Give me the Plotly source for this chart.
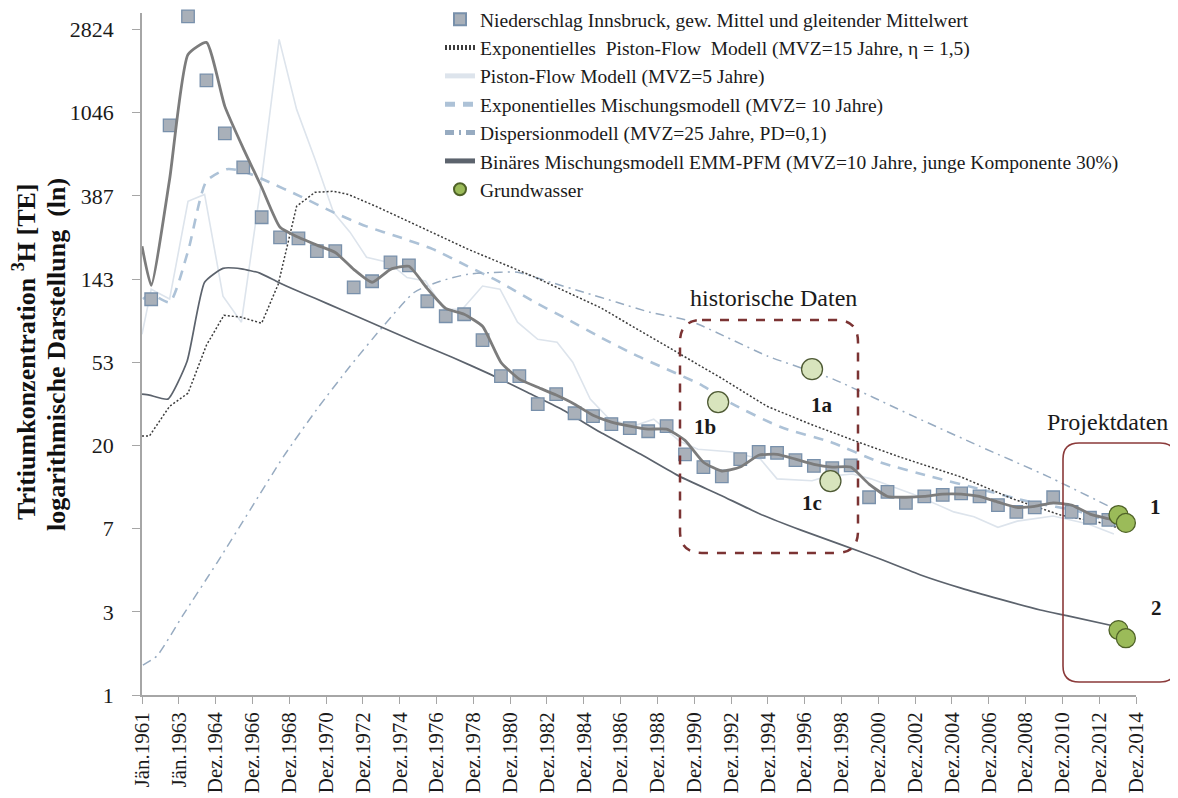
import plotly.graph_objects as go

# ---------------- data ----------------
x_tick_years = [1961, 1963, 1965, 1967, 1969, 1971, 1973, 1975, 1977, 1979, 1981, 1983, 1985, 1987,
                1989, 1991, 1993, 1995, 1997, 1999, 2001, 2003, 2005, 2007, 2009, 2011, 2013, 2015]
x_tick_labels = ["Jän.1961", "Jän.1963", "Dez.1964", "Dez.1966", "Dez.1968", "Dez.1970", "Dez.1972",
                 "Dez.1974", "Dez.1976", "Dez.1978", "Dez.1980", "Dez.1982", "Dez.1984", "Dez.1986",
                 "Dez.1988", "Dez.1990", "Dez.1992", "Dez.1994", "Dez.1996", "Dez.1998", "Dez.2000",
                 "Dez.2002", "Dez.2004", "Dez.2006", "Dez.2008", "Dez.2010", "Dez.2012", "Dez.2014"]
y_tick_vals = [1, 2.7, 7.29, 19.683, 53.1441, 143.489, 387.420, 1046.03, 2824.30]
y_tick_labels = ["1", "3", "7", "20", "53", "143", "387", "1046", "2824"]

ns_years = [1961.5, 1962.5, 1963.5, 1964.5, 1965.5, 1966.5, 1967.5, 1968.5, 1969.5, 1970.5,
            1971.5, 1972.5, 1973.5, 1974.5, 1975.5, 1976.5, 1977.5, 1978.5, 1979.5, 1980.5,
            1981.5, 1982.5, 1983.5, 1984.5, 1985.5, 1986.5, 1987.5, 1988.5, 1989.5, 1990.5,
            1991.5, 1992.5, 1993.5, 1994.5, 1995.5, 1996.5, 1997.5, 1998.5, 1999.5, 2000.5,
            2001.5, 2002.5, 2003.5, 2004.5, 2005.5, 2006.5, 2007.5, 2008.5, 2009.5, 2010.5,
            2011.5, 2012.5, 2013.5]
ns_values = [112.7, 899, 3300, 1537, 817, 544, 300, 236, 233, 200,
             200, 130, 139.7, 175, 169, 110, 92, 94.2, 69.1, 45,
             45, 32.2, 36.3, 28.9, 27.9, 25.4, 24.2, 23.3, 24.8, 17.7,
             15.2, 13.6, 16.7, 18.2, 18.0, 16.5, 15.4, 15.0, 15.5, 10.6,
             11.3, 9.9, 10.7, 10.9, 11.1, 10.7, 9.65, 8.9, 9.4, 10.6,
             8.9, 8.3, 8.1]

ma_years = [1961.0, 1961.5, 1962.5, 1963.5, 1964.5, 1965.5, 1966.5, 1967.5, 1968.5, 1969.5,
            1970.5, 1971.5, 1972.5, 1973.5, 1974.5, 1975.5, 1976.5, 1977.5, 1978.5, 1979.5,
            1980.5, 1981.5, 1982.5, 1983.5, 1984.5, 1985.5, 1986.5, 1987.5, 1988.5, 1989.5,
            1990.5, 1991.5, 1992.5, 1993.5, 1994.5, 1995.5, 1996.5, 1997.5, 1998.5, 1999.5,
            2000.5, 2001.5, 2002.5, 2003.5, 2004.5, 2005.5, 2006.5, 2007.5, 2008.5, 2009.5,
            2010.5, 2011.5, 2012.5, 2013.5, 2014.5]
ma_values = [212, 133, 472, 2096, 2418, 1127, 683, 429, 266, 236,
             215, 197, 161, 138, 161, 167, 128, 101, 94.2, 81.6,
             53.1, 43.4, 39.4, 35.9, 32.2, 28.2, 26.0, 24.8, 23.9, 23.9,
             20.9, 16.1, 14.5, 15.2, 17.5, 17.7, 16.7, 15.7, 15.2, 15.2,
             12.4, 10.7, 10.6, 10.7, 11.0, 11.0, 10.7, 10.0, 9.4, 9.5,
             9.9, 9.65, 8.67, 8.2, 7.7]

epf_years = [1961.0, 1961.4, 1962.5, 1963.5, 1964.5, 1965.45, 1966.4, 1967.5, 1968.4, 1969.4,
             1970.4, 1971.4, 1972.2, 1973.7, 1975.8, 1978.7, 1982.25, 1985.9, 1989.5, 1992.4,
             1994.95, 1997.3, 1999.9, 2002.2, 2005.5, 2008.3, 2010.9, 2013.45, 2014.15]
epf_values = [22.0, 22.0, 31.4, 36.7, 65.1, 93.1, 90.9, 84.6, 134.8, 342,
              404, 409, 394, 342, 276, 205, 148, 102, 64.3, 44.4,
              31.4, 25.4, 20.5, 17.1, 13.5, 10.4, 8.57, 7.7, 7.25]

pf_years = [1961.0, 1961.5, 1962.5, 1963.5, 1964.4, 1965.4, 1966.4, 1967.4, 1968.45, 1969.4,
            1970.4, 1971.4, 1972.3, 1973.2, 1974.4, 1975.4, 1976.4, 1977.4, 1978.4, 1979.5,
            1980.45, 1981.4, 1982.5, 1983.55, 1984.4, 1985.35, 1986.4, 1987.7, 1988.8, 1990.2,
            1991.2, 1993.1, 1994.6, 1995.5, 1997.4, 1998.2, 1999.6, 2000.6, 2002.9, 2005.1,
            2006.2, 2007.5, 2008.55, 2010.5, 2012.4, 2013.8]
pf_values = [74.2, 127, 113, 363, 394, 117, 85.7, 399, 2506, 1087,
             599, 318, 251, 186, 175, 146, 140, 100, 100, 132,
             127, 85.7, 69.9, 67.5, 53.1, 34.2, 26.9, 24.8, 26.9, 20.7,
             18.8, 18.2, 16.7, 13.2, 12.9, 13.6, 14.0, 13.2, 11.0, 8.9,
             8.4, 7.4, 7.97, 8.47, 7.7, 6.83]

emm_years = [1961.05, 1961.5, 1962.5, 1963.5, 1964.5, 1965.6, 1966.5, 1967.8, 1969.6, 1971.4,
             1973.2, 1975.0, 1976.8, 1978.7, 1980.45, 1982.25, 1984.1, 1985.9, 1987.7, 1989.5,
             1991.3, 1993.1, 1995.7, 1998.4, 2001.1, 2003.8, 2006.5, 2009.3, 2012.0, 2014.15]
emm_values = [113, 119.6, 108.7, 200, 461, 532, 519, 461, 385, 318,
              269, 236, 205, 167, 138, 110, 88.8, 71.6, 58.5, 48.9,
              40.9, 32.2, 24.5, 20.5, 16.1, 13.6, 11.7, 10.0, 8.9, 7.5]

disp_years = [1961.05, 1961.8, 1963.2, 1965.1, 1966.9, 1968.7, 1970.5, 1972.3, 1974.1, 1975.8,
              1977.2, 1978.7, 1980.45, 1981.4, 1983.2, 1985.0, 1986.8, 1988.6, 1990.8, 1995.0,
              1998.55, 2002.9, 2006.5, 2010.2, 2014.15]
disp_values = [1.43, 1.59, 2.57, 4.89, 9.2, 17.3, 30.3, 50.6, 81.6, 122.5,
               139.7, 151.9, 155.6, 155.6, 138, 122.5, 108.7, 96.5, 86.7, 57.1,
               43.4, 27.9, 19.5, 13.6, 8.9]

bin_years = [1961.0, 1961.4, 1962.4, 1963.45, 1964.4, 1965.4, 1966.4, 1967.4, 1968.4, 1969.4,
             1970.4, 1971.9, 1973.9, 1975.9, 1977.85, 1979.9, 1981.9, 1983.8, 1985.9, 1988.1,
             1990.2, 1992.4, 1994.6, 1996.8, 1998.9, 2001.1, 2003.3, 2005.5, 2007.6, 2009.8,
             2011.3, 2013.8]
bin_values = [36.3, 35.9, 34.2, 53.8, 138, 163, 162, 154, 138, 125,
              114, 98.8, 81.6, 67.5, 56.4, 46.1, 37.2, 30.3, 23.0, 17.7,
              13.6, 10.9, 8.66, 7.16, 6.06, 5.07, 4.19, 3.58, 3.14, 2.76,
              2.57, 2.28]

gw_hist_years = [1992.3, 1997.4, 1998.4]
gw_hist_values = [33.0, 48.9, 12.85]
gw_proj_years = [2014.05, 2014.45, 2014.05, 2014.45]
gw_proj_values = [8.57, 7.8, 2.17, 1.97]

# ---------------- layout helpers ----------------
# the page body has an 8 px default margin, so the figure is sized/offset to fit the window
OFF = 8
WIN_W, WIN_H = 1178, 798
W, H = WIN_W - OFF, WIN_H - OFF
# plot area in window pixel coordinates
L, R, T, B = 142, 1136, 13, 695


def px(x):
    return (x - L) / (R - L)


def py(y):
    return (B - y) / (B - T)


def rrect(x0, y0, x1, y1, r):
    def P(x, y):
        return f"{px(x):.5f},{py(y):.5f}"
    return (f"M {P(x0 + r, y0)} L {P(x1 - r, y0)} Q {P(x1, y0)} {P(x1, y0 + r)} "
            f"L {P(x1, y1 - r)} Q {P(x1, y1)} {P(x1 - r, y1)} L {P(x0 + r, y1)} "
            f"Q {P(x0, y1)} {P(x0, y1 - r)} L {P(x0, y0 + r)} Q {P(x0, y0)} {P(x0 + r, y0)} Z")


SERIF = "Liberation Serif, Times New Roman, serif"

fig = go.Figure()

fig.add_trace(go.Scatter(x=pf_years, y=pf_values, mode="lines", name="Piston-Flow Modell (MVZ=5 Jahre)",
                         line=dict(color="#dde4ec", width=1.6), legendrank=3))
fig.add_trace(go.Scatter(x=emm_years, y=emm_values, mode="lines",
                         name="Exponentielles Mischungsmodell (MVZ= 10 Jahre)",
                         line=dict(color="#adc2d7", width=2.6, dash="10px,8px", shape="spline", smoothing=0.6),
                         legendrank=4))
fig.add_trace(go.Scatter(x=disp_years, y=disp_values, mode="lines",
                         name="Dispersionmodell (MVZ=25 Jahre, PD=0,1)",
                         line=dict(color="#97abc1", width=1.5, dash="9px,5px,2px,5px", shape="spline", smoothing=0.6),
                         legendrank=5))
fig.add_trace(go.Scatter(x=epf_years, y=epf_values, mode="lines",
                         name="Exponentielles  Piston-Flow  Modell (MVZ=15 Jahre, η = 1,5)",
                         line=dict(color="#3c3c3c", width=1.5, dash="2px,2px"), legendrank=2))
fig.add_trace(go.Scatter(x=bin_years, y=bin_values, mode="lines",
                         name="Binäres Mischungsmodell EMM-PFM (MVZ=10 Jahre, junge Komponente 30%)",
                         line=dict(color="#5c636d", width=1.7, shape="spline", smoothing=0.5), legendrank=6))
fig.add_trace(go.Scatter(x=ns_years, y=ns_values, mode="markers",
                         name="Niederschlag Innsbruck, gew. Mittel und gleitender Mittelwert",
                         marker=dict(symbol="square", size=12.5, color="#a9b0b9",
                                     line=dict(color="#7890ab", width=1.3)),
                         legendrank=1, cliponaxis=False))
fig.add_trace(go.Scatter(x=ma_years, y=ma_values, mode="lines", showlegend=False,
                         line=dict(color="#7c7c7c", width=2.8, shape="spline", smoothing=0.5)))
fig.add_trace(go.Scatter(x=gw_hist_years, y=gw_hist_values, mode="markers", showlegend=False,
                         marker=dict(symbol="circle", size=21, color="#d8e4bd",
                                     line=dict(color="#4f5b35", width=1.3))))
fig.add_trace(go.Scatter(x=gw_proj_years, y=gw_proj_values, mode="markers", name="Grundwasser",
                         marker=dict(symbol="circle", size=19, color="#9bbb59",
                                     line=dict(color="#4f6228", width=1.3)),
                         legendrank=7, cliponaxis=False))

axis_col = "#a6a6a6"
fig.update_xaxes(range=[1961, 2015], tickmode="array", tickvals=x_tick_years, ticktext=x_tick_labels,
                 tickangle=-90, ticks="outside", ticklen=7, tickwidth=1.3, tickcolor=axis_col,
                 showline=True, linecolor=axis_col, linewidth=1.5, showgrid=False, zeroline=False,
                 automargin=False, tickfont=dict(family=SERIF, size=21, color="#1a1a1a"))
fig.update_yaxes(type="log", range=[0, 3.536], tickmode="array", tickvals=y_tick_vals,
                 ticktext=y_tick_labels, ticks="outside", ticklen=8, tickwidth=1.3, tickcolor=axis_col,
                 showline=True, linecolor=axis_col, linewidth=1.5, showgrid=False, zeroline=False,
                 ticklabelstandoff=14, automargin=False,
                 tickfont=dict(family=SERIF, size=22, color="#1a1a1a"))

annotations = [
    dict(x=px(24), y=py(352), text="<b>Tritiumkonzentration <sup>3</sup>H [TE]</b>", textangle=-90,
         font=dict(family=SERIF, size=26, color="#111111")),
    dict(x=px(56), y=py(355), text="<b>logarithmische Darstellung  (ln)</b>", textangle=-90,
         font=dict(family=SERIF, size=26, color="#111111")),
    dict(x=px(773), y=py(298), text="historische Daten", size=24),
    dict(x=px(1107), y=py(422), text="Projektdaten", size=24),
    dict(x=px(705), y=py(427), text="<b>1b</b>", size=21),
    dict(x=px(822), y=py(405), text="<b>1a</b>", size=21),
    dict(x=px(812), y=py(503), text="<b>1c</b>", size=21),
    dict(x=px(1155), y=py(507), text="<b>1</b>", size=21),
    dict(x=px(1156), y=py(608), text="<b>2</b>", size=21),
]
for a in annotations:
    a.update(xref="paper", yref="paper", showarrow=False, xanchor="center", yanchor="middle")
    if "size" in a:
        a["font"] = dict(family=SERIF, size=a.pop("size"), color="#1a1a1a")

shapes = [
    dict(type="path", xref="paper", yref="paper", path=rrect(680, 320, 858, 553, 22),
         line=dict(color="#7b3333", width=2.5, dash="dash")),
    dict(type="path", xref="paper", yref="paper", path=rrect(1063, 443, 1176, 682, 16),
         line=dict(color="#8b3a3a", width=1.6)),
]

fig.update_layout(
    width=W, height=H,
    margin=dict(l=L - OFF, r=W - (R - OFF), t=T - OFF, b=H - (B - OFF), autoexpand=False),
    plot_bgcolor="white", paper_bgcolor="white",
    annotations=annotations, shapes=shapes,
    legend=dict(x=px(440), y=py(0), xanchor="left", yanchor="top", bgcolor="rgba(0,0,0,0)",
                font=dict(family=SERIF, size=19.5, color="#1a1a1a"), itemsizing="constant",
                traceorder="normal"),
    showlegend=True,
)

fig.write_html("out.html")
